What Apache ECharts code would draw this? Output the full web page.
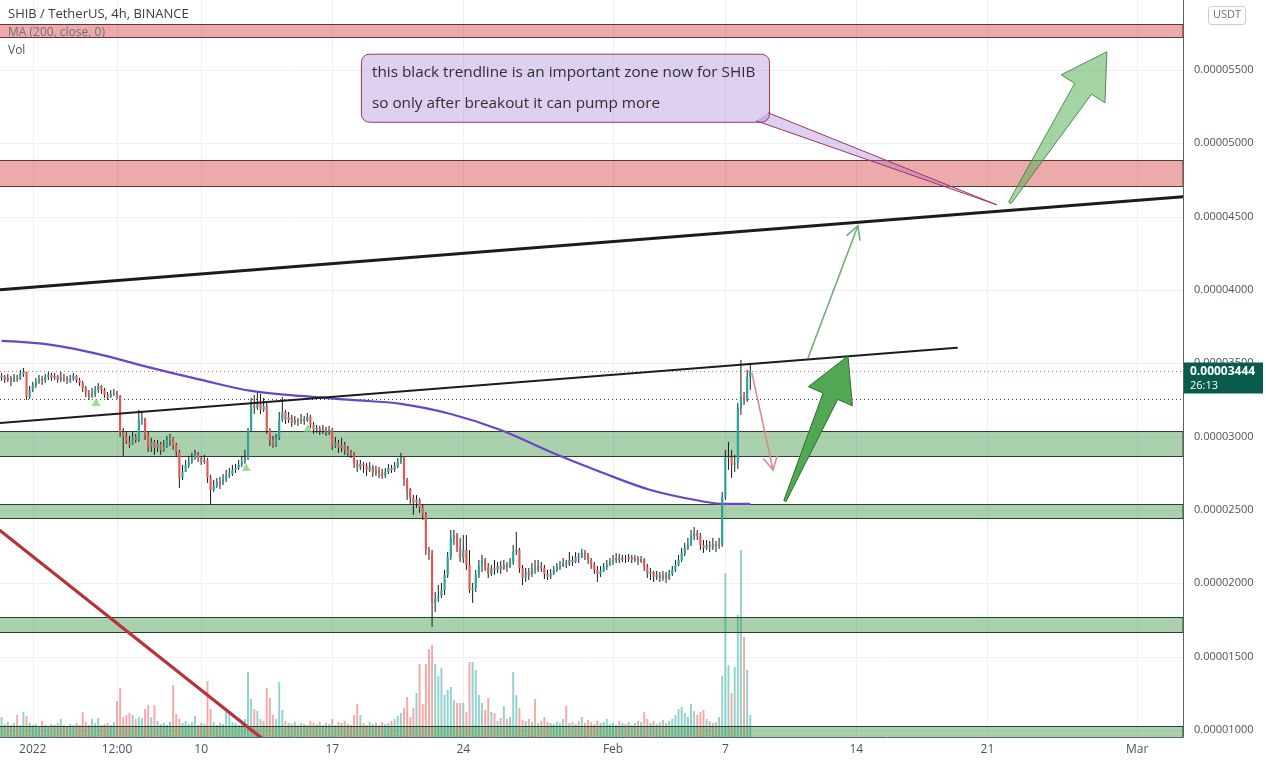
<!DOCTYPE html>
<html>
<head>
<meta charset="utf-8">
<script src="https://cdn.jsdelivr.net/npm/echarts/dist/echarts.min.js"></script>
<style>
html,body{margin:0;padding:0;background:#fff;}
#c{width:1266px;height:761px;}
</style>
</head>
<body>
<div id="c"></div>
<script>
// ---------------- DATA (prices in units of 1e-8 USDT) ----------------
const firstOpen = 3400;
const closes = [
3414,3386,3400,3373,3407,3393,3427,3441,3270,3318,
3352,3373,3393,3380,3407,3420,3400,3414,3386,3400,
3396,3380,3393,3414,3386,3366,3332,3298,3277,3291,
3318,3345,3318,3284,3270,3291,3298,3277,3032,3005,
2964,2943,2998,2977,3114,3127,3011,2929,2964,2923,
2950,2909,2936,2977,2991,2943,2895,2718,2759,2807,
2827,2854,2875,2854,2827,2841,2718,2636,2663,2691,
2677,2711,2732,2745,2773,2786,2807,2827,2854,3045,
3216,3195,3223,3182,3209,3045,2977,2943,2991,3114,
3168,3114,3134,3093,3114,3100,3120,3107,3134,3080,
3045,3059,3039,3052,3032,3045,2936,2957,2923,2943,
2909,2889,2875,2814,2793,2814,2800,2773,2793,2752,
2773,2752,2732,2759,2786,2773,2800,2827,2861,2704,
2636,2582,2548,2568,2514,2466,2227,2207,1866,1900,
1913,1954,2057,2179,2309,2329,2241,2172,2227,2125,
1954,1968,2057,2118,2159,2111,2064,2104,2091,2118,
2098,2125,2111,2145,2213,2227,2104,2036,2077,2057,
2104,2091,2118,2104,2064,2043,2070,2091,2111,2118,
2138,2132,2159,2145,2179,2172,2207,2193,2159,2125,
2091,2064,2084,2111,2125,2145,2159,2172,2159,2172,
2166,2179,2159,2172,2152,2166,2111,2064,2077,2043,
2057,2036,2057,2036,2064,2091,2125,2159,2207,2241,
2261,2323,2343,2323,2261,2241,2261,2248,2268,2254,
2261,2589,2854,2861,2807,2820,3195,3270,3250,3407,3444
];
const highs = [
3434,3420,3427,3414,3427,3420,3455,3468,3441,3345,
3373,3400,3420,3414,3427,3441,3434,3434,3420,3441,
3427,3414,3420,3434,3420,3400,3380,3345,3318,3332,
3345,3366,3352,3332,3304,3318,3325,3311,3284,3059,
3032,3005,3032,3018,3182,3168,3127,3032,2991,2977,
2977,2964,2977,3005,3018,2998,2957,2909,2807,2841,
2868,2889,2909,2895,2868,2875,2854,2739,2704,2718,
2725,2745,2773,2786,2807,2814,2841,2868,2909,3059,
3264,3284,3298,3291,3264,3230,3059,3005,3018,3168,
3270,3182,3168,3148,3141,3127,3154,3141,3161,3148,
3100,3080,3073,3080,3066,3073,3059,2998,2977,2991,
2964,2936,2909,2895,2841,2841,2827,2820,2827,2807,
2800,2793,2780,2786,2814,2807,2827,2854,2889,2854,
2718,2650,2602,2602,2582,2534,2486,2248,2227,1941,
1988,2002,2091,2213,2363,2363,2343,2309,2329,2329,
2227,2002,2091,2159,2193,2172,2138,2125,2159,2145,
2152,2159,2145,2172,2261,2350,2241,2125,2104,2104,
2138,2159,2159,2145,2125,2091,2098,2118,2138,2152,
2172,2159,2213,2186,2213,2207,2234,2227,2207,2172,
2145,2118,2118,2138,2159,2172,2193,2207,2200,2193,
2193,2200,2193,2193,2186,2186,2172,2132,2104,2084,
2084,2077,2084,2077,2091,2118,2159,2193,2241,2275,
2309,2363,2384,2363,2343,2295,2295,2288,2309,2288,
2309,2623,2909,2964,2909,2875,3230,3523,3304,3455,3502
];
const lows = [
3380,3366,3373,3345,3380,3373,3386,3407,3250,3257,
3304,3332,3359,3352,3366,3386,3380,3386,3366,3373,
3373,3359,3366,3380,3366,3345,3304,3270,3250,3264,
3270,3298,3291,3264,3250,3264,3277,3257,2998,2861,
2950,2923,2950,2957,2964,3080,2977,2895,2895,2875,
2895,2875,2895,2923,2936,2909,2868,2650,2704,2759,
2786,2814,2841,2827,2807,2814,2684,2534,2623,2650,
2643,2670,2691,2718,2732,2752,2773,2793,2814,2841,
3032,3154,3182,3154,3168,3018,2936,2923,2929,2977,
3100,3086,3093,3066,3080,3073,3086,3080,3100,3059,
3018,3025,3011,3018,3005,3011,2909,2923,2889,2895,
2875,2861,2854,2786,2759,2773,2752,2732,2759,2725,
2732,2718,2711,2718,2745,2752,2759,2786,2814,2663,
2568,2541,2466,2514,2480,2432,2193,2159,1702,1804,
1872,1900,1920,2036,2159,2261,2213,2145,2138,2091,
1934,1866,1941,2036,2077,2084,2036,2050,2057,2070,
2064,2091,2077,2104,2125,2193,2070,1988,2009,2022,
2043,2064,2077,2077,2029,2022,2029,2057,2077,2091,
2111,2104,2118,2118,2138,2138,2172,2159,2132,2098,
2064,2009,2043,2077,2091,2118,2125,2138,2138,2145,
2138,2145,2138,2145,2125,2138,2084,2036,2022,2009,
2022,2009,2016,2002,2022,2050,2077,2118,2145,2186,
2227,2254,2295,2295,2227,2207,2227,2213,2227,2213,
2234,2248,2568,2773,2718,2759,2780,3148,3216,3236,3318
];
// volume (billions SHIB, estimated)
const volumes = [
200,130,150,120,140,220,120,250,210,140,
120,130,100,160,120,110,130,120,140,180,
120,110,130,120,140,120,250,150,120,180,
140,190,120,130,140,120,150,360,490,200,
220,240,220,180,200,190,280,320,200,320,
160,130,140,120,150,520,230,180,140,160,
130,150,210,120,140,130,560,280,150,120,
140,130,250,230,150,140,120,160,180,650,
380,280,260,180,160,490,390,220,180,550,
270,160,140,130,150,120,140,130,120,160,
140,130,150,120,140,130,180,120,150,140,
160,130,120,220,330,220,140,120,150,130,
140,120,150,130,140,160,180,210,240,290,
400,200,290,440,730,330,730,880,920,730,
610,690,420,470,500,370,340,340,340,250,
750,750,670,420,340,270,390,250,240,160,
190,310,180,200,650,420,290,170,160,180,
150,380,140,160,200,150,140,130,150,140,
180,310,140,150,130,160,200,140,170,150,
130,160,140,150,180,130,140,120,160,140,
130,150,120,140,160,150,250,180,140,160,
130,150,170,140,160,180,220,280,300,240,
200,330,260,220,250,270,180,160,140,150,
200,610,1640,720,440,700,1220,1870,1000,670,220
];
// MA(200) at selected bars
const maIdx  = [0,16,32,48,64,80,96,112,128,144,160,176,192,208,224,232,240];
const maVals = [3652,3625,3557,3468,3386,3311,3277,3250,3223,3154,3045,2895,2759,2636,2561,2541,2541];

// axis ticks
const xTickIdx  = [10,37,64,106,148,196,232,274,316,364];
const xTickText = ['2022','12:00','10','17','24','Feb','7','14','21','Mar'];
const yTickVals = [1000,1500,2000,2500,3000,3500,4000,4500,5000,5500];

// drawings (data coordinates: [bar index, price])
const redZones   = [[5725,5814],[4709,4887]];
const greenZones = [[2868,3039],[2446,2541],[1666,1768],[900,1027]];
const majorTrend = [[-0.5,4000],[378.7,4634]];
const minorTrend = [[-0.5,3093],[306.2,3605]];
const downTrend  = [[-0.5,2360],[84,934]];
const thinGreenArrow = [[258.5,3536],[274.5,4437]];
const thinRedArrow   = [[240.5,3434],[247.3,2773]];
const bigDarkArrow   = [[251.1,2561],[271.3,3550]];
const bigLightArrow  = [[323.2,4593],[354.3,5623]];
const patternMarks   = [[30.3,3236],[78.4,2793],[98.2,3059]];
const calloutBox = [[115.2,5610],[246.0,5146]];
const calloutTip = [319.0,4580];
const calloutText = ['this black trendline is an important zone now for SHIB','so only after breakout it can pump more'];
const lastPrice = 3444;
const refLine = 3257;
const countdown = '26:13';

// ---------------- CHART ----------------
const FONT = "'Open Sans','Noto Sans',sans-serif";
const X_MIN = -0.5, X_MAX = 378.7;
const candleData = closes.map((c,i)=>{
  const o = i===0 ? firstOpen : closes[i-1];
  return [i,o,c,Math.min(lows[i],o,c),Math.max(highs[i],o,c)];
});
const volData = volumes.map((v,i)=>[i,v,candleData[i][2]>=candleData[i][1]?1:0]);
const fmtPrice = v => (v/1e8).toFixed(8);

const chart = echarts.init(document.getElementById('c'), null, {renderer:'canvas'});

function lineSeries(name, pts, color, width, z, dash){
  return {
    type:'custom', name, z, clip:true, silent:true,
    data:[[pts[0][0],pts[0][1],pts[1][0],pts[1][1]]],
    encode:{x:[0,2], y:[1,3]},
    renderItem:(params, api)=>{
      const a = api.coord([api.value(0),api.value(1)]);
      const b = api.coord([api.value(2),api.value(3)]);
      return {type:'line', shape:{x1:a[0],y1:a[1],x2:b[0],y2:b[1]},
        style:{stroke:color, lineWidth:width, lineDash:dash||null, lineCap:'round'}};
    }
  };
}
function thinArrow(name, pts, color){
  return {
    type:'custom', name, z:8, clip:true, silent:true,
    data:[[pts[0][0],pts[0][1],pts[1][0],pts[1][1]]],
    encode:{x:[0,2], y:[1,3]},
    renderItem:(params, api)=>{
      const a = api.coord([api.value(0),api.value(1)]);
      const b = api.coord([api.value(2),api.value(3)]);
      const ang = Math.atan2(b[1]-a[1], b[0]-a[0]);
      const hl = 15, spread = 0.5;
      const h1 = [b[0]-hl*Math.cos(ang-spread), b[1]-hl*Math.sin(ang-spread)];
      const h2 = [b[0]-hl*Math.cos(ang+spread), b[1]-hl*Math.sin(ang+spread)];
      return {type:'group', children:[
        {type:'line', shape:{x1:a[0],y1:a[1],x2:b[0],y2:b[1]}, style:{stroke:color,lineWidth:1.6}},
        {type:'polyline', shape:{points:[h1,b,h2]}, style:{stroke:color,lineWidth:1.6,fill:null}}
      ]};
    }
  };
}
function blockArrow(name, pts, fill, stroke, headLen, headHalf, s0, s1){
  return {
    type:'custom', name, z:8, clip:true, silent:true,
    data:[[pts[0][0],pts[0][1],pts[1][0],pts[1][1]]],
    encode:{x:[0,2], y:[1,3]},
    renderItem:(params, api)=>{
      const t = api.coord([api.value(0),api.value(1)]);
      const p = api.coord([api.value(2),api.value(3)]);
      const dx=p[0]-t[0], dy=p[1]-t[1], L=Math.hypot(dx,dy);
      const ux=dx/L, uy=dy/L, nx=-uy, ny=ux;
      const bx=p[0]-ux*headLen, by=p[1]-uy*headLen;
      const poly=[[t[0]+nx*s0,t[1]+ny*s0],[bx+nx*s1,by+ny*s1],[bx+nx*headHalf,by+ny*headHalf],
        [p[0],p[1]],[bx-nx*headHalf,by-ny*headHalf],[bx-nx*s1,by-ny*s1],[t[0]-nx*s0,t[1]-ny*s0]];
      return {type:'polygon', shape:{points:poly}, style:{fill, stroke, lineWidth:1, lineJoin:'round'}};
    }
  };
}

const option = {
  animation:false,
  backgroundColor:'#ffffff',
  grid:{left:0,right:83,top:0,bottom:24,containLabel:false},
  xAxis:{
    type:'value', min:X_MIN, max:X_MAX,
    axisLine:{show:true, onZero:false, lineStyle:{color:'#5d606b',width:1}},
    axisTick:{show:false},
    splitLine:{show:false},
    axisLabel:{
      customValues:xTickIdx, color:'#4c525e', fontSize:12, fontFamily:FONT, margin:7,
      formatter:v=>{const k=xTickIdx.findIndex(t=>Math.abs(t-v)<1e-6); return k>=0?xTickText[k]:'';}
    }
  },
  yAxis:[{
    type:'value', position:'right', min:952, max:5976,
    axisLine:{show:true, onZero:false, lineStyle:{color:'#5d606b',width:1}},
    axisTick:{show:false},
    splitLine:{show:false},
    axisLabel:{customValues:yTickVals, color:'#4c525e', fontSize:11, fontFamily:FONT, margin:11,
      formatter:fmtPrice}
  },{
    type:'value', position:'left', min:0, max:7370, show:false,
    axisLine:{show:false, onZero:false}, splitLine:{show:false}
  }],
  graphic:[
    {type:'text', left:8, top:8, z:100, style:{text:'SHIB / TetherUS, 4h, BINANCE', fill:'#3a3d45', font:"13px "+FONT}},
    {type:'text', left:8, top:27, z:100, style:{text:'MA (200, close, 0)', fill:'#6f727c', font:"12px "+FONT}},
    {type:'text', left:8, top:45, z:100, style:{text:'Vol', fill:'#50535e', font:"12px "+FONT}},
    {type:'rect', left:1208, top:6, z:100, shape:{width:37,height:18,r:3}, style:{fill:'#fff',stroke:'#c9ccd4',lineWidth:1}},
    {type:'text', left:1213, top:9, z:101, style:{text:'USDT', fill:'#6f727c', font:"11px "+FONT}}
  ],
  series:[
    // faint grid
    {
      type:'custom', name:'grid', z:0, silent:true, clip:true, data:[[0,1000]],
      renderItem:(params, api)=>{
        const cs=params.coordSys; const ch=[];
        xTickIdx.forEach(t=>{const x=Math.round(api.coord([t,1000])[0])+0.5;
          ch.push({type:'line',shape:{x1:x,y1:cs.y,x2:x,y2:cs.y+cs.height},style:{stroke:'#eef0f4',lineWidth:1}});});
        yTickVals.forEach(v=>{const y=Math.round(api.coord([0,v])[1])+0.5;
          ch.push({type:'line',shape:{x1:cs.x,y1:y,x2:cs.x+cs.width,y2:y},style:{stroke:'#eef0f4',lineWidth:1}});});
        return {type:'group',children:ch};
      }
    },
    // volume
    {
      type:'custom', name:'Vol', xAxisIndex:0, yAxisIndex:1, z:1, clip:true, silent:true,
      data:volData, encode:{x:0,y:1},
      renderItem:(params, api)=>{
        const i=api.value(0), v=api.value(1), up=api.value(2);
        const top=api.coord([i,v]), base=api.coord([i,0]);
        const w=Math.max(1,api.size([1,0])[0]*0.62);
        return {type:'rect', shape:{x:top[0]-w/2,y:top[1],width:w,height:base[1]-top[1]},
          style:{fill: up ? 'rgba(38,166,154,0.5)' : 'rgba(239,83,80,0.5)'}};
      }
    },
    // zones
    {
      type:'custom', name:'zones', z:2, clip:true, silent:true,
      data: redZones.map(z=>[0,z[0],z[1],0]).concat(greenZones.map(z=>[0,z[0],z[1],1])),
      encode:{x:0,y:[1,2]},
      renderItem:(params, api)=>{
        const cs=params.coordSys;
        const y1=Math.round(api.coord([0,api.value(2)])[1])+0.5, y2=Math.round(api.coord([0,api.value(1)])[1])+0.5;
        const g=api.value(3)===1;
        return {type:'rect', shape:{x:cs.x-2,y:y1,width:cs.width+2,height:y2-y1},
          style:{fill: g ? 'rgba(56,142,60,0.42)' : 'rgba(204,20,20,0.36)',
                 stroke: g ? 'rgba(25,45,28,0.9)' : 'rgba(70,25,25,0.85)', lineWidth:1}};
      }
    },
    // dotted horizontal lines (last price, reference)
    {
      type:'custom', name:'dots', z:3, clip:true, silent:true,
      data:[[0,lastPrice,0],[0,refLine,1]], encode:{x:0,y:1},
      renderItem:(params, api)=>{
        const cs=params.coordSys; const y=Math.round(api.coord([0,api.value(1)])[1])+0.5;
        const r=api.value(2)===0;
        return {type:'line', shape:{x1:cs.x,y1:y,x2:cs.x+cs.width,y2:y},
          style:{stroke: r ? 'rgba(200,60,60,0.8)' : '#444', lineWidth:1, lineDash:[1,3]}};
      }
    },
    // MA 200
    {
      type:'line', name:'MA', z:4, data:maIdx.map((x,k)=>[x,maVals[k]]), smooth:0.35,
      showSymbol:false, lineStyle:{color:'#6a45c8', width:2.2}, silent:true
    },
    // candles
    {
      type:'custom', name:'SHIB', z:5, clip:true, silent:true,
      data:candleData, encode:{x:0,y:[1,2,3,4]},
      renderItem:(params, api)=>{
        const i=api.value(0), o=api.value(1), c=api.value(2), l=api.value(3), h=api.value(4);
        const pO=api.coord([i,o]), pC=api.coord([i,c]), pL=api.coord([i,l]), pH=api.coord([i,h]);
        const w=Math.max(1,api.size([1,0])[0]*0.68);
        const xc=pO[0];
        const top=Math.min(pO[1],pC[1]), bh=Math.max(1,Math.abs(pO[1]-pC[1]));
        const col = c>=o ? '#26a69a' : '#ef5350';
        return {type:'group', children:[
          {type:'line', shape:{x1:xc,y1:pH[1],x2:xc,y2:pL[1]}, style:{stroke:'#1b1b1b',lineWidth:1}},
          {type:'rect', shape:{x:xc-w/2,y:top,width:w,height:bh}, style:{fill:col}}
        ]};
      }
    },
    // pattern triangles
    {
      type:'scatter', name:'marks', z:6, silent:true, data:patternMarks,
      symbol:'triangle', symbolSize:[9,8], itemStyle:{color:'rgba(120,200,110,0.85)'}
    },
    lineSeries('majorTrend', majorTrend, '#1c1c1c', 3, 7),
    lineSeries('minorTrend', minorTrend, '#1c1c1c', 2, 7),
    lineSeries('downTrend', downTrend, '#b8323a', 3.2, 7),
    thinArrow('greenThin', thinGreenArrow, '#6fae76'),
    thinArrow('redThin', thinRedArrow, '#d88a8b'),
    blockArrow('darkArrow', bigDarkArrow, '#52a852', '#2f6e31', 44, 24, 1.2, 8),
    blockArrow('lightArrow', bigLightArrow, 'rgba(90,175,90,0.55)', 'rgba(60,125,62,0.85)', 44, 26, 1.5, 10),
    // callout
    {
      type:'custom', name:'callout', z:9, clip:false, silent:true,
      data:[[calloutBox[0][0],calloutBox[0][1],calloutBox[1][0],calloutBox[1][1],calloutTip[0],calloutTip[1]]],
      encode:{x:[0,2,4], y:[1,3,5]},
      renderItem:(params, api)=>{
        const a=api.coord([api.value(0),api.value(1)]);
        const b=api.coord([api.value(2),api.value(3)]);
        const t=api.coord([api.value(4),api.value(5)]);
        const A=[b[0]-13,b[1]-1], B=[b[0]-1,b[1]-9];
        return {type:'group', children:[
          {type:'polygon', shape:{points:[A,t,B]}, style:{fill:'rgba(150,110,210,0.32)',stroke:null}},
          {type:'polyline', shape:{points:[A,t,B]}, style:{stroke:'#a3345a',lineWidth:1,fill:null}},
          {type:'rect', shape:{x:a[0]+0.5,y:a[1]+0.5,width:b[0]-a[0],height:b[1]-a[1],r:8},
            style:{fill:'rgba(150,110,210,0.32)',stroke:'#a3345a',lineWidth:1}},
          {type:'text', x:a[0]+11, y:a[1]+19, style:{text:calloutText[0],fill:'#2f2f2f',font:"15.3px "+FONT,verticalAlign:'middle'}},
          {type:'text', x:a[0]+11, y:a[1]+50, style:{text:calloutText[1],fill:'#2f2f2f',font:"15.3px "+FONT,verticalAlign:'middle'}}
        ]};
      }
    },
    // last price label on axis
    {
      type:'custom', name:'lastLabel', z:20, clip:false, silent:true,
      data:[[X_MAX,lastPrice]], encode:{x:0,y:1},
      renderItem:(params, api)=>{
        const cs=params.coordSys; const y=api.coord([X_MAX,api.value(1)])[1];
        const x0=cs.x+cs.width+1;
        return {type:'group', children:[
          {type:'rect', shape:{x:x0,y:y-9,width:79,height:31}, style:{fill:'#095c4b'}},
          {type:'text', x:x0+6, y:y, style:{text:fmtPrice(api.value(1)),fill:'#fff',font:"bold 12px "+FONT,verticalAlign:'middle'}},
          {type:'text', x:x0+6, y:y+14, style:{text:countdown,fill:'#fff',font:"11px "+FONT,verticalAlign:'middle'}}
        ]};
      }
    }
  ]
};
chart.setOption(option);
</script>
</body>
</html>
